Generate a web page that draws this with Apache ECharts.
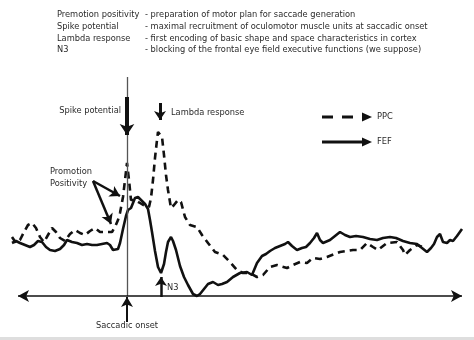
<!DOCTYPE html>
<html><head><meta charset="utf-8">
<script src="https://cdn.jsdelivr.net/npm/echarts@6/dist/echarts.min.js"></script>
<style>html,body{margin:0;padding:0;background:#fff}#c{width:474px;height:340px}</style>
</head><body><div id="c"></div>
<script>
// time relative to saccadic onset (arbitrary units), amplitude (arbitrary units)
const fef = [[-115,53],[-111,55],[-107,53],[-102,51],[-97,49],[-93,51],[-89,55],[-85,54],[-81,49],[-77,46],[-72,45],[-67,47],[-63,51],[-60,56],[-55,54],[-50,53],[-45,51],[-40,52],[-35,51],[-30,51],[-25,52],[-20,53],[-17,51],[-14,46],[-12,44],[-9,47],[-7,53],[-4,67],[-1,80],[1,86],[4,88],[6,93],[8,98],[11,99],[14,96],[18,92],[21,87],[23,76],[25,64],[28,45],[31,29],[34,23],[37,32],[39,44],[41,54],[44,59],[46,55],[49,46],[53,30],[57,19],[61,11],[66,2],[70,0],[73,2],[77,7],[81,12],[86,14],[91,11],[95,12],[100,14],[106,19],[113,23],[120,24],[125,21],[130,33],[135,40],[139,42],[143,45],[148,48],[153,50],[158,52],[161,54],[165,50],[170,46],[175,48],[179,49],[183,53],[187,58],[190,63],[193,56],[196,53],[203,56],[208,60],[213,64],[218,61],[223,59],[229,60],[236,59],[243,57],[250,56],[256,58],[263,59],[269,58],[276,55],[283,53],[290,52],[295,48],[300,44],[304,48],[307,52],[310,59],[313,62],[316,54],[320,53],[323,56],[326,55],[330,60],[335,67]];
const ppc = [[-115,59],[-111,53],[-107,56],[-103,64],[-99,71],[-95,73],[-91,68],[-87,59],[-83,54],[-79,61],[-75,68],[-71,64],[-67,58],[-62,55],[-57,62],[-52,66],[-47,63],[-42,61],[-37,65],[-32,68],[-27,64],[-20,64],[-15,64],[-12,69],[-9,76],[-7,83],[-4,99],[-2,116],[0,133],[2,116],[4,96],[8,96],[13,93],[18,90],[22,89],[24,98],[26,116],[28,138],[30,156],[31,164],[33,164],[35,159],[37,141],[39,121],[41,106],[44,88],[47,91],[51,96],[54,94],[58,79],[63,71],[70,69],[75,61],[81,53],[88,44],[96,41],[103,34],[110,26],[116,23],[123,23],[130,19],[136,21],[143,29],[150,31],[160,28],[166,31],[173,34],[180,33],[186,38],[193,37],[200,39],[213,44],[226,46],[233,46],[240,53],[246,49],[251,46],[260,53],[270,54],[276,46],[278,41],[283,46],[290,51],[298,48]];
const xRange = [-127, 347];
const yRange = [-44, 296];
const axisSpan = [-109, 335];
const onsetTop = 219;
const notes = [
  ['Premotion positivity', '- preparation of motor plan for saccade generation'],
  ['Spike potential', '- maximal recruitment of oculomotor muscle units at saccadic onset'],
  ['Lambda response', '- first encoding of basic shape and space characteristics in cortex'],
  ['N3', '- blocking of the frontal eye field executive functions (we suppose)']
];
const FONT = "'Liberation Sans Narrow','DejaVu Sans Condensed',Lato,sans-serif";
const FS = '9.2px ';
const INK = '#111';
const TXT = '#2a2a2a';

const chart = echarts.init(document.getElementById('c'), null, {renderer:'canvas'});
const graphics = [];
notes.forEach((n, i) => {
  const y = 15 + i * 11.7;
  graphics.push({type:'text', x:57, y:y, silent:true, style:{text:n[0], font:FS+FONT, fill:TXT, textVerticalAlign:'middle'}});
  graphics.push({type:'text', x:145, y:y, silent:true, style:{text:n[1], font:FS+FONT, fill:TXT, textVerticalAlign:'middle'}});
});
function label(t, x, y, align){
  graphics.push({type:'text', x:x, y:y, silent:true, style:{text:t, font:FS+FONT, fill:TXT, textVerticalAlign:'middle', textAlign:align||'left'}});
}
label('Spike potential', 121, 111, 'right');
label('Lambda response', 171, 113);
label('Promotion', 50, 172);
label('Positivity', 50, 184);
label('N3', 167, 288);
label('Saccadic onset', 127, 326, 'center');
label('PPC', 377, 117);
label('FEF', 377, 142);
// legend keys
graphics.push({type:'line', silent:true, shape:{x1:322,y1:117,x2:362,y2:117}, style:{stroke:INK, lineWidth:3, lineDash:[11,9]}});
graphics.push({type:'polygon', silent:true, shape:{points:[[362,112.5],[372,117],[362,121.5]]}, style:{fill:INK}});
graphics.push({type:'line', silent:true, shape:{x1:322,y1:142,x2:364,y2:142}, style:{stroke:INK, lineWidth:3}});
graphics.push({type:'polygon', silent:true, shape:{points:[[362,137.5],[372,142],[362,146.5]]}, style:{fill:INK}});
graphics.push({type:'rect', silent:true, shape:{x:0,y:337,width:474,height:3}, style:{fill:'#dedede'}});

function arrow(a, b, w, size, startSym, color){
  return [
    {coord:a, symbol:startSym||'none', symbolSize:size, lineStyle:{width:w, color:color||INK, type:'solid'}},
    {coord:b, symbol:'arrow', symbolSize:size}
  ];
}

chart.setOption({
  animation:false,
  grid:{left:0, right:0, top:0, bottom:0},
  xAxis:{type:'value', min:xRange[0], max:xRange[1], show:false},
  yAxis:{type:'value', min:yRange[0], max:yRange[1], show:false},
  graphic:graphics,
  series:[
    {name:'PPC', type:'line', data:ppc, showSymbol:false, smooth:false,
     lineStyle:{color:INK, width:2.6, type:[7,5]}, z:3},
    {name:'FEF', type:'line', data:fef, showSymbol:false, smooth:false,
     lineStyle:{color:INK, width:2.6}, z:3,
     markLine:{silent:true, symbol:['none','arrow'], label:{show:false},
       data:[
         [{coord:[0,onsetTop], symbol:'none', lineStyle:{width:1.3,color:'#555',type:'solid'}},{coord:[0,0], symbol:'none'}],
         arrow([axisSpan[0],0],[axisSpan[1],0],1.6,[9,11],'arrow'),
         arrow([0,-26],[0,-1],2,[9,10]),
         arrow([0,199],[0,161],4,[11,11]),
         arrow([33,193],[33,176],3,[9,9]),
         arrow([34,-1],[34,19],2.5,[9,9]),
         arrow([-34,115],[-7,100],2.5,[9,10]),
         arrow([-34,115],[-16,72],2.5,[9,10])
       ]}
    }
  ]
});
</script></body></html>
